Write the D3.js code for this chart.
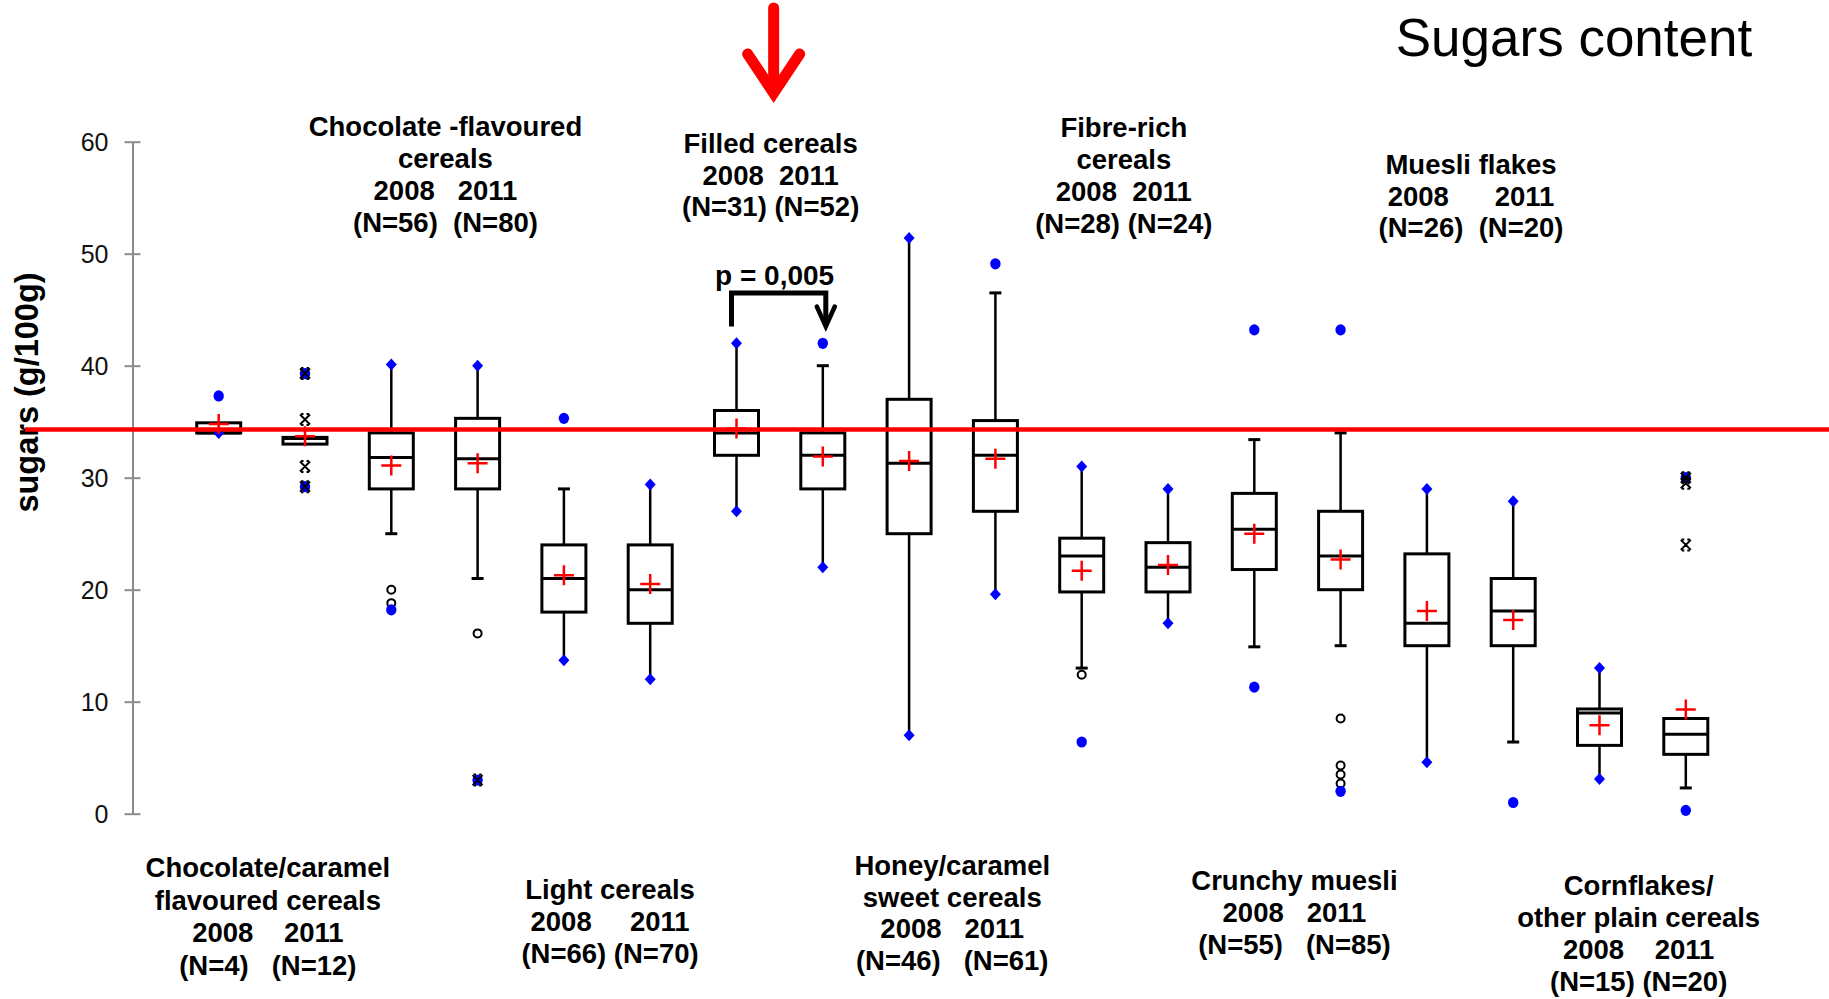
<!DOCTYPE html>
<html>
<head>
<meta charset="utf-8">
<script src="https://cdn.jsdelivr.net/npm/d3@7"></script>
<style>
  body { margin: 0; background: #fff; }
  svg text { font-family: "Liberation Sans", Arial, sans-serif; white-space: pre; }
</style>
</head>
<body>
<svg id="chart" width="1829" height="999"></svg>
<script>
// ---- data -------------------------------------------------------------
const categories = [
  "Chocolate/caramel flavoured cereals", "Chocolate -flavoured cereals", "Light cereals",
  "Filled cereals", "Honey/caramel sweet cereals", "Fibre-rich cereals",
  "Crunchy muesli", "Muesli flakes", "Cornflakes/other plain cereals"
];
const years = ["2008", "2011"];
const sampleSizes = [[4, 12], [56, 80], [66, 70], [31, 52], [46, 61], [28, 24], [55, 85], [26, 20], [15, 20]];
const nameLines = [
  ["Chocolate/caramel", "flavoured cereals"], ["Chocolate -flavoured", "cereals"], ["Light cereals"],
  ["Filled cereals"], ["Honey/caramel", "sweet cereals"], ["Fibre-rich", "cereals"],
  ["Crunchy muesli"], ["Muesli flakes"], ["Cornflakes/", "other plain cereals"]
];

// one box per category and year, in drawing order (2008, 2011, 2008, 2011 ...)
const whiskerLow  = [34.0, 33.0, 25.0, 21.0, 13.7, 12.0, 27.0, 22.0,  7.0, 19.6, 13.0, 17.0, 14.9, 15.0,  4.6,  6.4, 3.1, 2.3];
const q1          = [34.0, 33.0, 29.0, 29.0, 18.0, 17.0, 32.0, 29.0, 25.0, 27.0, 19.8, 19.8, 21.8, 20.0, 15.0, 15.0, 6.1, 5.3];
const medians     = [34.0, 33.5, 31.8, 31.7, 21.0, 20.0, 34.0, 32.0, 31.3, 32.0, 23.0, 22.0, 25.4, 23.0, 17.0, 18.1, 9.0, 7.1];
const q3          = [34.9, 33.6, 34.0, 35.3, 24.0, 24.0, 36.0, 34.0, 37.0, 35.1, 24.6, 24.2, 28.6, 27.0, 23.2, 21.0, 9.35, 8.5];
const whiskerHigh = [34.9, 33.6, 40.1, 40.0, 29.0, 29.4, 42.0, 40.0, 51.4, 46.5, 31.0, 29.0, 33.4, 34.0, 29.0, 27.9, 13.0, 8.5];
const means       = [34.8, 33.7, 31.1, 31.3, 21.3, 20.5, 34.4, 31.9, 31.5, 31.7, 21.7, 22.2, 25.0, 22.7, 18.1, 17.3, 7.9, 9.3];
const minima      = [34.0, 29.2, 18.2,  3.0, 13.7, 12.0, 27.0, 22.0,  7.0, 19.6,  6.4, 17.0, 11.3,  2.0,  4.6,  1.0, 3.1, 0.3];
const maxima      = [37.3, 39.3, 40.1, 40.0, 35.3, 29.4, 42.0, 42.0, 51.4, 49.1, 31.0, 29.0, 43.2, 43.2, 29.0, 27.9, 13.0, 30.0];

// outliers: [box index, value]
const mildOutliers    = [[2, 20.0], [2, 18.8], [3, 16.1], [10, 12.4], [13, 8.5], [13, 4.3], [13, 3.5], [13, 2.7]];
const extremeOutliers = [[1, 39.3], [1, 35.2], [1, 31.0], [1, 29.2], [3, 3.0], [17, 30.0], [17, 29.5], [17, 24.0]];

const referenceLevel = 34.3;          // red horizontal line
const yTicks = [0, 10, 20, 30, 40, 50, 60];
const pValueText = "p = 0,005";

// ---- layout ------------------------------------------------------------
const boxKeys = categories.flatMap(c => years.map(y => c + " " + y));

const svg = d3.select("#chart");
svg.append("rect").attr("width", 1829).attr("height", 999).attr("fill", "#fff");

const x = d3.scalePoint().domain(boxKeys).range([218.7, 1685.8]);
const y = d3.scaleLinear().domain([0, 60]).range([813.7, 141.7]);
const boxW = 44;
const BLUE = "#0000ff", RED = "#ff0000";
const LABEL_SIZE = 27.5;

// ---- y axis ------------------------------------------------------------
const axisX = 132.5;
const axis = d3.axisLeft(y).tickValues(yTicks).tickSize(0).tickPadding(24);
const gAxis = svg.append("g").attr("transform", `translate(${axisX},0)`).call(axis);
gAxis.select(".domain").attr("stroke", "#8c8c8c").attr("stroke-width", 2);
gAxis.selectAll(".tick line").remove();
gAxis.selectAll(".tick").append("line")
  .attr("x1", -8).attr("x2", 8)
  .attr("stroke", "#8c8c8c").attr("stroke-width", 2);
gAxis.selectAll(".tick text")
  .attr("font-family", "Liberation Sans, Arial, sans-serif")
  .attr("font-size", 25).attr("fill", "#111").attr("dy", "0.34em");

svg.append("text")
  .attr("transform", `translate(38,392.5) rotate(-90)`)
  .attr("text-anchor", "middle")
  .attr("font-size", 32.5).attr("font-weight", "bold").attr("fill", "#000")
  .text("sugars (g/100g)");

// ---- boxes -------------------------------------------------------------
const boxes = boxKeys.map((k, i) => ({
  key: k, lo: whiskerLow[i], q1: q1[i], med: medians[i], q3: q3[i], hi: whiskerHigh[i],
  mean: means[i], min: minima[i], max: maxima[i]
}));

const gBox = svg.append("g");
const bx = gBox.selectAll("g.box").data(boxes).join("g").attr("class", "box")
  .attr("transform", d => `translate(${x(d.key)},0)`);

// whiskers
bx.append("line").attr("y1", d => y(d.q3)).attr("y2", d => y(d.hi))
  .attr("stroke", "#000").attr("stroke-width", 2.5);
bx.append("line").attr("y1", d => y(d.q1)).attr("y2", d => y(d.lo))
  .attr("stroke", "#000").attr("stroke-width", 2.5);
// caps where the whisker stops short of the extreme value
bx.filter(d => d.max !== d.hi && d.hi !== d.q3).append("line")
  .attr("x1", -6).attr("x2", 6).attr("y1", d => y(d.hi)).attr("y2", d => y(d.hi))
  .attr("stroke", "#000").attr("stroke-width", 3);
bx.filter(d => d.min !== d.lo && d.lo !== d.q1).append("line")
  .attr("x1", -6).attr("x2", 6).attr("y1", d => y(d.lo)).attr("y2", d => y(d.lo))
  .attr("stroke", "#000").attr("stroke-width", 3);
// box
bx.append("rect").attr("x", -boxW / 2).attr("width", boxW)
  .attr("y", d => y(d.q3)).attr("height", d => y(d.q1) - y(d.q3))
  .attr("fill", "#fff").attr("stroke", "#000").attr("stroke-width", 3);
// median
bx.append("line").attr("x1", -boxW / 2).attr("x2", boxW / 2)
  .attr("y1", d => y(d.med)).attr("y2", d => y(d.med))
  .attr("stroke", "#000").attr("stroke-width", 3);

// mild outliers: open circles
svg.append("g").selectAll("circle").data(mildOutliers).join("circle")
  .attr("cx", d => x(boxKeys[d[0]])).attr("cy", d => y(d[1])).attr("r", 4)
  .attr("fill", "#fff").attr("stroke", "#000").attr("stroke-width", 2);

// minimum / maximum markers
const extremes = boxes.flatMap(d => [
  { key: d.key, v: d.min, atWhisker: d.min === d.lo },
  { key: d.key, v: d.max, atWhisker: d.max === d.hi }
]);
const gExt = svg.append("g");
gExt.selectAll("path").data(extremes.filter(e => e.atWhisker)).join("path")
  .attr("transform", e => `translate(${x(e.key)},${y(e.v)})`)
  .attr("d", "M0,-6L5.5,0L0,6L-5.5,0Z").attr("fill", BLUE);
gExt.selectAll("ellipse").data(extremes.filter(e => !e.atWhisker)).join("ellipse")
  .attr("cx", e => x(e.key)).attr("cy", e => y(e.v)).attr("rx", 5.2).attr("ry", 5.6)
  .attr("fill", BLUE);

// extreme outliers: asterisks
svg.append("g").selectAll("path").data(extremeOutliers).join("path")
  .attr("transform", d => `translate(${x(boxKeys[d[0]])},${y(d[1])})`)
  .attr("d", "M-5,-5L5,5M5,-5L-5,5M-4,-5.5L-1.5,-5.5M1.5,-5.5L4,-5.5M-4,5.5L-1.5,5.5M1.5,5.5L4,5.5")
  .attr("fill", "none").attr("stroke", "#000").attr("stroke-width", 2);

// means: red crosses
svg.append("g").selectAll("path").data(boxes).join("path")
  .attr("transform", d => `translate(${x(d.key)},${y(d.mean)})`)
  .attr("d", "M-10,0L10,0M0,-10L0,10")
  .attr("stroke", RED).attr("stroke-width", 2.5);

// ---- category labels ---------------------------------------------------
const labelPlace = [
  { dx: 6,  base: 877, lh: 32.5, yg: 4, ng: 3 },
  { dx: 11, base: 136, lh: 32,   yg: 3, ng: 2 },
  { dx: 3,  base: 899, lh: 32,   yg: 5, ng: 1 },
  { dx: -9, base: 153, lh: 31.5, yg: 2, ng: 1 },
  { dx: 0,  base: 875, lh: 31.5, yg: 3, ng: 3 },
  { dx: -1, base: 137, lh: 32,   yg: 2, ng: 1 },
  { dx: -3, base: 890, lh: 32,   yg: 3, ng: 3 },
  { dx: 1,  base: 174, lh: 31.5, yg: 6, ng: 2 },
  { dx: -4, base: 895, lh: 32,   yg: 4, ng: 1 }
];
const gLab = svg.append("g");
categories.forEach((c, i) => {
  const p = labelPlace[i];
  const cx = (x(boxKeys[2 * i]) + x(boxKeys[2 * i + 1])) / 2 + p.dx;
  const lines = nameLines[i].concat([
    years[0] + " ".repeat(p.yg) + years[1],
    `(N=${sampleSizes[i][0]})` + " ".repeat(p.ng) + `(N=${sampleSizes[i][1]})`
  ]);
  gLab.append("g").selectAll("text").data(lines).join("text")
    .attr("x", cx).attr("y", (d, j) => p.base + j * p.lh)
    .attr("text-anchor", "middle").attr("font-size", LABEL_SIZE).attr("font-weight", "bold")
    .attr("fill", "#000").text(d => d);
});

// ---- significance bracket between the two filled-cereal boxes ----------
const xa = x(boxKeys[6]) - 5, xb = x(boxKeys[7]) + 3;
const yTop = y(46.5), yFoot = y(43.5);
svg.append("path")
  .attr("d", `M${xa},${yFoot}L${xa},${yTop}L${xb},${yTop}L${xb},${yFoot - 3}`)
  .attr("fill", "none").attr("stroke", "#000").attr("stroke-width", 5)
  .attr("stroke-linejoin", "miter");
svg.append("path")
  .attr("d", `M${xb - 9},${yFoot - 20}L${xb},${yFoot}L${xb + 9},${yFoot - 20}`)
  .attr("fill", "none").attr("stroke", "#000").attr("stroke-width", 4.5)
  .attr("stroke-linecap", "round");
svg.append("text")
  .attr("x", (xa + xb) / 2 - 4).attr("y", yTop - 8)
  .attr("text-anchor", "middle").attr("font-size", 28).attr("font-weight", "bold")
  .text(pValueText);

// red down arrow above the filled cereals
const arrowX = (x(boxKeys[6]) + x(boxKeys[7])) / 2 - 6;
svg.append("path")
  .attr("d", `M${arrowX},8L${arrowX},92`)
  .attr("stroke", RED).attr("stroke-width", 11).attr("stroke-linecap", "round");
svg.append("path")
  .attr("d", `M${arrowX - 26},54L${arrowX},93L${arrowX + 26},54`)
  .attr("fill", "none").attr("stroke", RED).attr("stroke-width", 11)
  .attr("stroke-linecap", "round").attr("stroke-linejoin", "miter");

// ---- reference line ----------------------------------------------------
svg.append("line")
  .attr("x1", 25).attr("x2", 1829)
  .attr("y1", y(referenceLevel)).attr("y2", y(referenceLevel))
  .attr("stroke", RED).attr("stroke-width", 4.5);

// ---- title -------------------------------------------------------------
svg.append("text")
  .attr("x", 1574).attr("y", 56)
  .attr("text-anchor", "middle").attr("font-size", 53).attr("fill", "#000")
  .text("Sugars content");
</script>
</body>
</html>
